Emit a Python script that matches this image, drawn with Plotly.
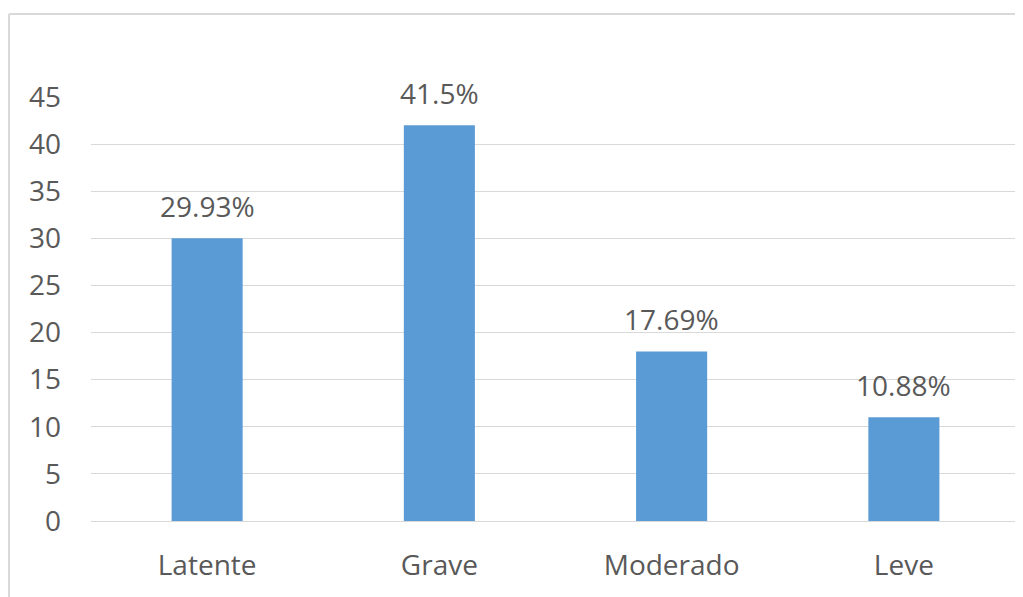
import plotly.graph_objects as go

categories = ["Latente", "Grave", "Moderado", "Leve"]
bar_values = [30, 42, 18, 11]
value_labels = ["29.93%", "41.5%", "17.69%", "10.88%"]
y_ticks = [0, 5, 10, 15, 20, 25, 30, 35, 40, 45]

# page has an 8px body margin; compensate so the picture lands at reference pixels
OFF = 8
W, H = 1023 - OFF, 597 - OFF
L, R, T, B = 91 - OFF, 3, 97 - OFF, 76
pw, ph = W - L - R, H - T - B

def px_x(p):
    return (p - OFF - L) / pw

def px_y(p):
    return (H - B - (p - OFF)) / ph

text_color = "#595959"
grid_color = "#d9d9d9"
font_family = "Open Sans, Segoe UI, Calibri, sans-serif"
fs = 28

fig = go.Figure()
fig.add_trace(go.Bar(
    x=categories, y=bar_values,
    marker=dict(color="#5b9bd5", line=dict(width=0)),
    hoverinfo="skip",
))

for c, v, t in zip(categories, bar_values, value_labels):
    fig.add_annotation(x=c, y=v, text=t, showarrow=False, yanchor="bottom",
                       yshift=11, font=dict(size=fs, color=text_color, family=font_family))

border = dict(color=grid_color, width=2)
fig.add_shape(type="line", xref="paper", yref="paper",
              x0=px_x(9), x1=px_x(1040), y0=px_y(14), y1=px_y(14), line=border)
fig.add_shape(type="line", xref="paper", yref="paper",
              x0=px_x(9), x1=px_x(9), y0=px_y(14), y1=px_y(620), line=border)

fig.update_layout(
    width=W, height=H,
    margin=dict(l=L, r=R, t=T, b=B),
    paper_bgcolor="white", plot_bgcolor="white",
    bargap=0.694,
    showlegend=False,
    font=dict(family=font_family, color=text_color, size=fs),
)
fig.update_yaxes(range=[0, 45], tickvals=y_ticks, showgrid=True, gridcolor=grid_color,
                 gridwidth=1, zeroline=False, showline=False, ticks="",
                 ticklabelstandoff=29, tickfont=dict(size=fs, color=text_color))
fig.update_xaxes(showline=True, linecolor=grid_color, linewidth=1, ticks="",
                 ticklabelstandoff=19, tickfont=dict(size=fs, color=text_color))

fig.write_html("out.html")
